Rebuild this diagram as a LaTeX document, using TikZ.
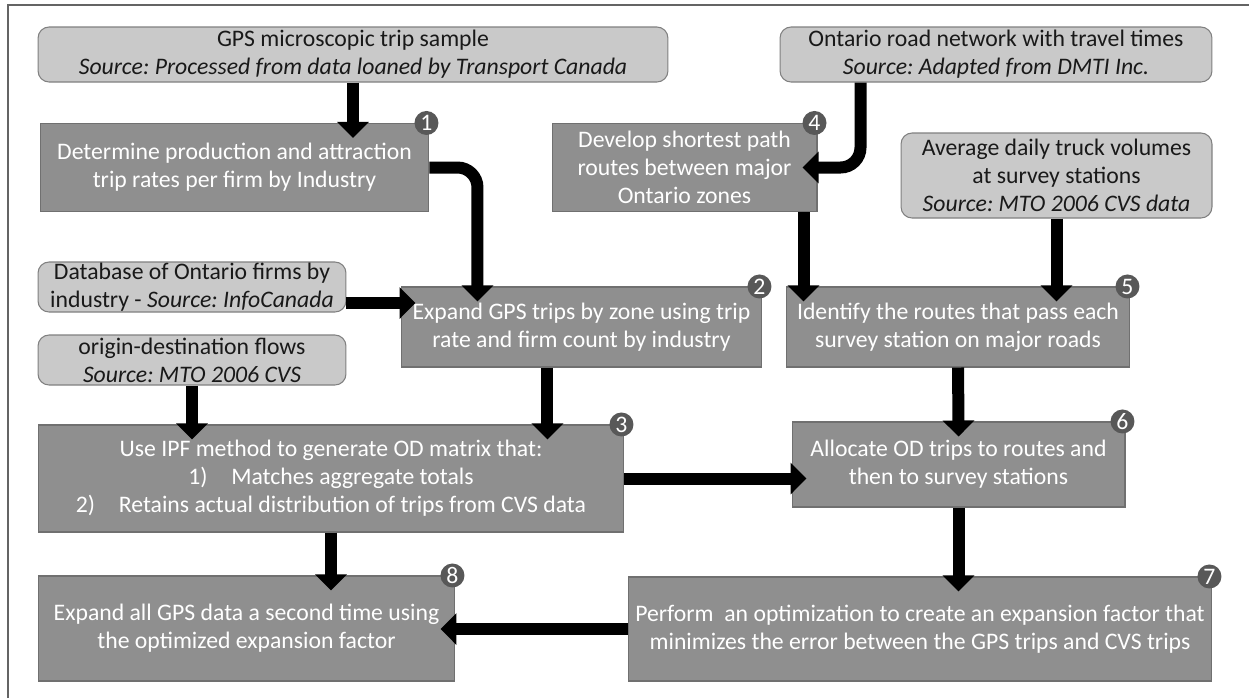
\documentclass[tikz,border=0pt]{standalone}
\usepackage{fontspec}
\setmainfont{Carlito}
\usetikzlibrary{arrows.meta}
\definecolor{srcgray}{RGB}{201,201,201}
\definecolor{srcline}{RGB}{128,128,128}
\definecolor{stepgray}{RGB}{143,143,143}
\definecolor{stepline}{RGB}{112,112,112}
\definecolor{numgray}{RGB}{88,88,88}
\definecolor{framegray}{RGB}{100,100,100}
\frenchspacing

\begin{document}
\begin{tikzpicture}[x=0.02cm,y=-0.02cm,font=\fontsize{13.5}{16}\selectfont,
		srcbox/.style={draw=srcline,fill=srcgray,text=black!90,rounded corners=0.22cm,align=center,inner sep=0pt,line width=0.6pt},
		stepbox/.style={draw=stepline,fill=stepgray,text=white,align=center,inner sep=0pt,line width=0.6pt},
		num/.style={circle,fill=numgray,text=white,inner sep=0pt,minimum size=0.48cm,font=\fontsize{13.5}{13.5}\selectfont},
		flow/.style={line width=0.24cm,-{Triangle[width=0.62cm,length=0.32cm]},shorten >=-0.3cm}]
	\useasboundingbox (0,0) rectangle (1249,698);
	\draw[framegray,line width=1.2pt] (8,698)--(8,5)--(1249,5);

	% data sources
	\node[srcbox,minimum width=12.6cm,minimum height=1.1cm] (gps) at (353,54.5) {GPS microscopic trip sample\\\textit{Source: Processed from data loaned by Transport Canada}};
	\node[srcbox,minimum width=8.64cm,minimum height=1.1cm] (road) at (996,54.5) {Ontario road network with travel times\\\textit{Source: Adapted from DMTI Inc.}};
	\node[srcbox,minimum width=6.22cm,minimum height=1.7cm] (avg) at (1056.5,175.5) {Average daily truck volumes\\at survey stations\\\textit{Source: MTO 2006 CVS data}};
	\node[srcbox,minimum width=6.16cm,minimum height=1cm] (db) at (192,287) {Database of Ontario firms by\\industry - \textit{Source: InfoCanada}};
	\node[srcbox,minimum width=6.16cm,minimum height=1cm] (od) at (192,360) {origin-destination flows\\\textit{Source: MTO 2006 CVS}};

	% steps
	\node[stepbox,minimum width=7.78cm,minimum height=1.76cm] (s1) at (234.5,167.5) {Determine production and attraction\\trip rates per firm by Industry};
	\node[stepbox,minimum width=5.3cm,minimum height=1.76cm] (s4) at (684.5,167.5) {Develop shortest path\\routes between major\\Ontario zones};
	\node[stepbox,minimum width=7.22cm,minimum height=1.6cm] (s2) at (581.5,327) {Expand GPS trips by zone using trip\\rate and firm count by industry};
	\node[stepbox,minimum width=6.88cm,minimum height=1.6cm] (s5) at (958,327) {Identify the routes that pass each\\survey station on major roads};
	\node[stepbox,minimum width=11.72cm,minimum height=2.14cm] (s3) at (331,478.5) {Use IPF method to generate OD matrix that:\\1)\quad Matches aggregate totals\\2)\quad Retains actual distribution of trips from CVS data};
	\node[stepbox,minimum width=6.66cm,minimum height=1.7cm] (s6) at (958.5,464.5) {Allocate OD trips to routes and\\then to survey stations};
	\node[stepbox,minimum width=8.34cm,minimum height=2.1cm] (s8) at (246.5,628.5) {Expand all GPS data a second time using\\the optimized expansion factor};
	\node[stepbox,minimum width=11.68cm,minimum height=2.08cm] (s7) at (920,629) {Perform\ \ an optimization to create an expansion factor that\\minimizes the error between the GPS trips and CVS trips};

	\foreach \s/\n in {s1/1,s2/2,s3/3,s4/4,s5/5,s6/6,s7/7,s8/8}
		\node[num] (n\n) at ([xshift=-0.06cm]\s.north east) {\n};

	% connectors
	\draw[flow] (gps.south) -- (gps.south |- s1.north);
	\draw[flow,rounded corners=0.4cm] (s1.east) -| ([xshift=1.54cm]s2.north west);
	\draw[flow,rounded corners=0.4cm] ([xshift=1.62cm]road.south west) |- (s4.east);
	\draw[flow] ([yshift=-0.32cm]db.east) -- ([yshift=-0.32cm]db.east -| s2.west);
	\draw[flow] (od.south) -- (od.south |- s3.north);
	\draw[flow] ([xshift=2.94cm]s2.south west) -- ([xshift=2.94cm]s2.south west |- s3.north);
	\draw[flow] ([xshift=-0.28cm]s4.south east) -- ([xshift=-0.28cm]s4.south east |- s5.north);
	\draw[flow] (avg.south) -- (avg.south |- s5.north);
	\draw[flow] (s5.south) -- (s6.north);
	\draw[flow] (s3.east) -- (s3.east -| s6.west);
	\draw[flow] (s6.south) -- (s6.south |- s7.north);
	\draw[flow] (s3.south) -- (s3.south |- s8.north);
	\draw[flow] (s7.west) -- (s7.west -| s8.east);
\end{tikzpicture}
\end{document}
